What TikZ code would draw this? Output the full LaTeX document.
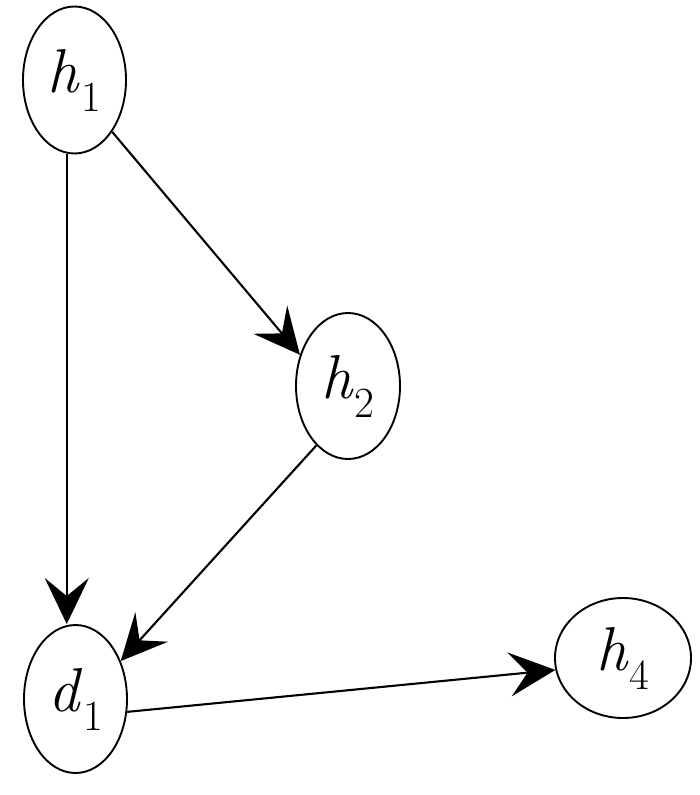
\documentclass[tikz,border=0pt]{standalone}
\usetikzlibrary{shapes.geometric,arrows.meta}
\newcommand{\vlab}[2]{\textit{#1}\kern1pt\raisebox{-19pt}{\fontsize{43}{50}\selectfont #2}}
\begin{document}
\begin{tikzpicture}[x=1pt,y=-1pt,
  var/.style={draw,ellipse,line width=1.9pt,inner sep=0pt,font=\fontsize{62}{74}\selectfont},
  link/.style={line width=2.1pt,-{Stealth[length=46pt,width=44pt,inset=18pt]}}]
\useasboundingbox (0,0) rectangle (700,795);
\node[var,minimum width=103pt,minimum height=147pt] (h1) at (74.5,80) {\vlab{h}{1}};
\node[var,minimum width=104pt,minimum height=146pt] (h2) at (348,386) {\vlab{h}{2}};
\node[var,minimum width=103pt,minimum height=148pt] (d1) at (75.5,699) {\vlab{d}{1}};
\node[var,minimum width=136pt,minimum height=120pt] (h4) at (623,658) {\vlab{h}{4}};
\draw[link] (h1.-96) -- (h1.-96 |- d1.north);
\draw[link] (h1.-54) -- (h2.147);
\draw[link] (h2.242) -- (d1.40);
\draw[link] (d1.-14) -- (h4.190);
\end{tikzpicture}
\end{document}
